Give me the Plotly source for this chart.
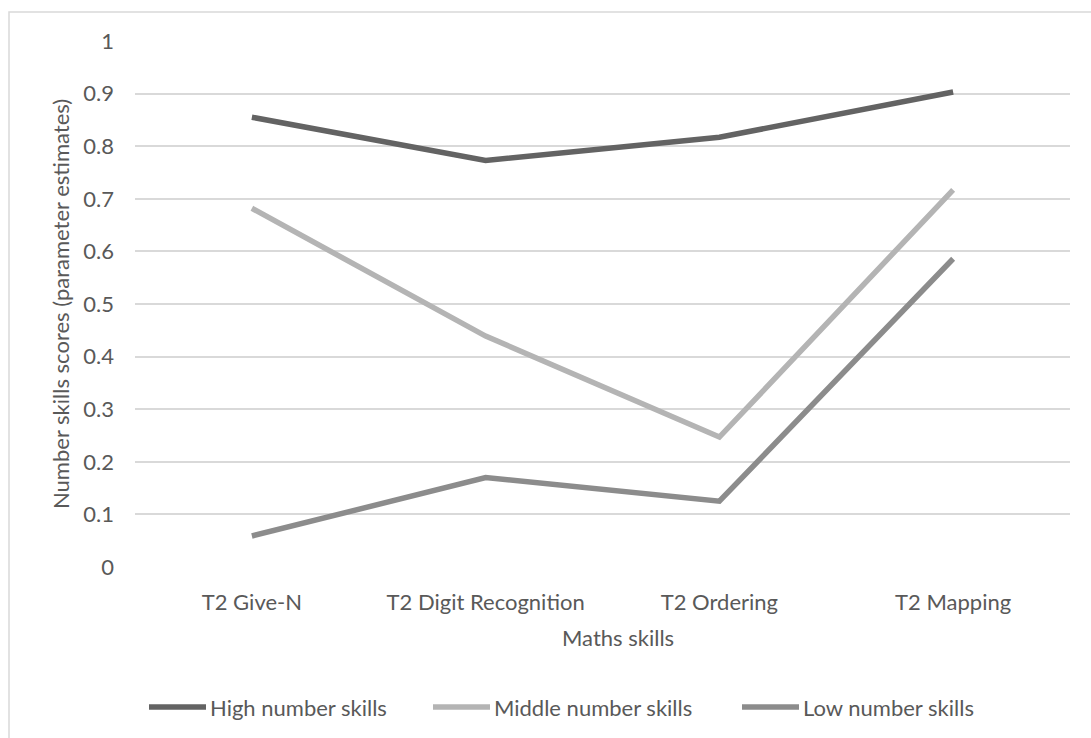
import plotly.graph_objects as go

# Category labels along the x axis
skills = ["T2 Give-N", "T2 Digit Recognition", "T2 Ordering", "T2 Mapping"]

# Parameter estimates per profile group
high_scores = [0.855, 0.773, 0.817, 0.903]
middle_scores = [0.682, 0.439, 0.247, 0.717]
low_scores = [0.059, 0.170, 0.125, 0.586]

series_names = ["High number skills", "Middle number skills", "Low number skills"]
series_colors = ["#636363", "#b4b4b4", "#8c8c8c"]

FONT = "Lato, Open Sans, sans-serif"
TEXT_COLOR = "#595959"
GRID_COLOR = "#d9d9d9"

# Plot area in pixels (used to place the legend and axis titles in paper units)
L, R, T, B = 135, 1070, 41, 567


def px_x(px):
    return (px - L) / (R - L)


def px_y(py):
    return (B - py) / (B - T)


fig = go.Figure()
for name, values, color in zip(series_names, [high_scores, middle_scores, low_scores], series_colors):
    fig.add_trace(go.Scatter(
        x=skills, y=values, name=name, mode="lines",
        line=dict(color=color, width=5.5),
    ))

# Legend row below the axis: a swatch line followed by its label
legend_starts = [149, 433, 742]
legend_y = 707
shapes = [
    dict(type="rect", xref="paper", yref="paper",
         x0=px_x(9), x1=1.2, y0=-1.0, y1=px_y(12),
         line=dict(color=GRID_COLOR, width=1.5), fillcolor="rgba(0,0,0,0)", layer="below"),
]
annotations = [
    dict(text="Maths skills", xref="paper", yref="paper",
         x=px_x(618), y=px_y(637), xanchor="center", yanchor="middle",
         showarrow=False, font=dict(family=FONT, size=22, color=TEXT_COLOR)),
    dict(text="Number skills scores (parameter estimates)", xref="paper", yref="paper",
         x=px_x(60), y=0.5, xanchor="center", yanchor="middle", textangle=-90,
         showarrow=False, font=dict(family=FONT, size=22, color=TEXT_COLOR)),
]
for start, name, color in zip(legend_starts, series_names, series_colors):
    shapes.append(dict(type="line", xref="paper", yref="paper",
                       x0=px_x(start), x1=px_x(start + 57), y0=px_y(legend_y), y1=px_y(legend_y),
                       line=dict(color=color, width=5.5)))
    annotations.append(dict(text=name, xref="paper", yref="paper",
                            x=px_x(start + 59), y=px_y(legend_y), xanchor="left", yanchor="middle",
                            showarrow=False, font=dict(family=FONT, size=22, color=TEXT_COLOR)))

fig.update_layout(
    width=1091, height=738,
    margin=dict(l=L, r=1091 - R, t=T, b=738 - B),
    paper_bgcolor="white", plot_bgcolor="white",
    font=dict(family=FONT, size=22, color=TEXT_COLOR),
    showlegend=False,
    xaxis=dict(
        type="category", range=[-0.5, 3.5], showgrid=False, zeroline=False, showline=False,
        ticks="", ticklabelstandoff=20,
        tickfont=dict(family=FONT, size=22, color=TEXT_COLOR),
    ),
    yaxis=dict(
        range=[0, 1], dtick=0.1, tick0=0,
        showgrid=True, gridcolor=GRID_COLOR, gridwidth=1.5,
        zeroline=False, showline=False, ticks="", ticklabelstandoff=20,
        tickfont=dict(family=FONT, size=22, color=TEXT_COLOR),
    ),
    annotations=annotations,
    shapes=shapes,
)

fig.write_html("out.html")
